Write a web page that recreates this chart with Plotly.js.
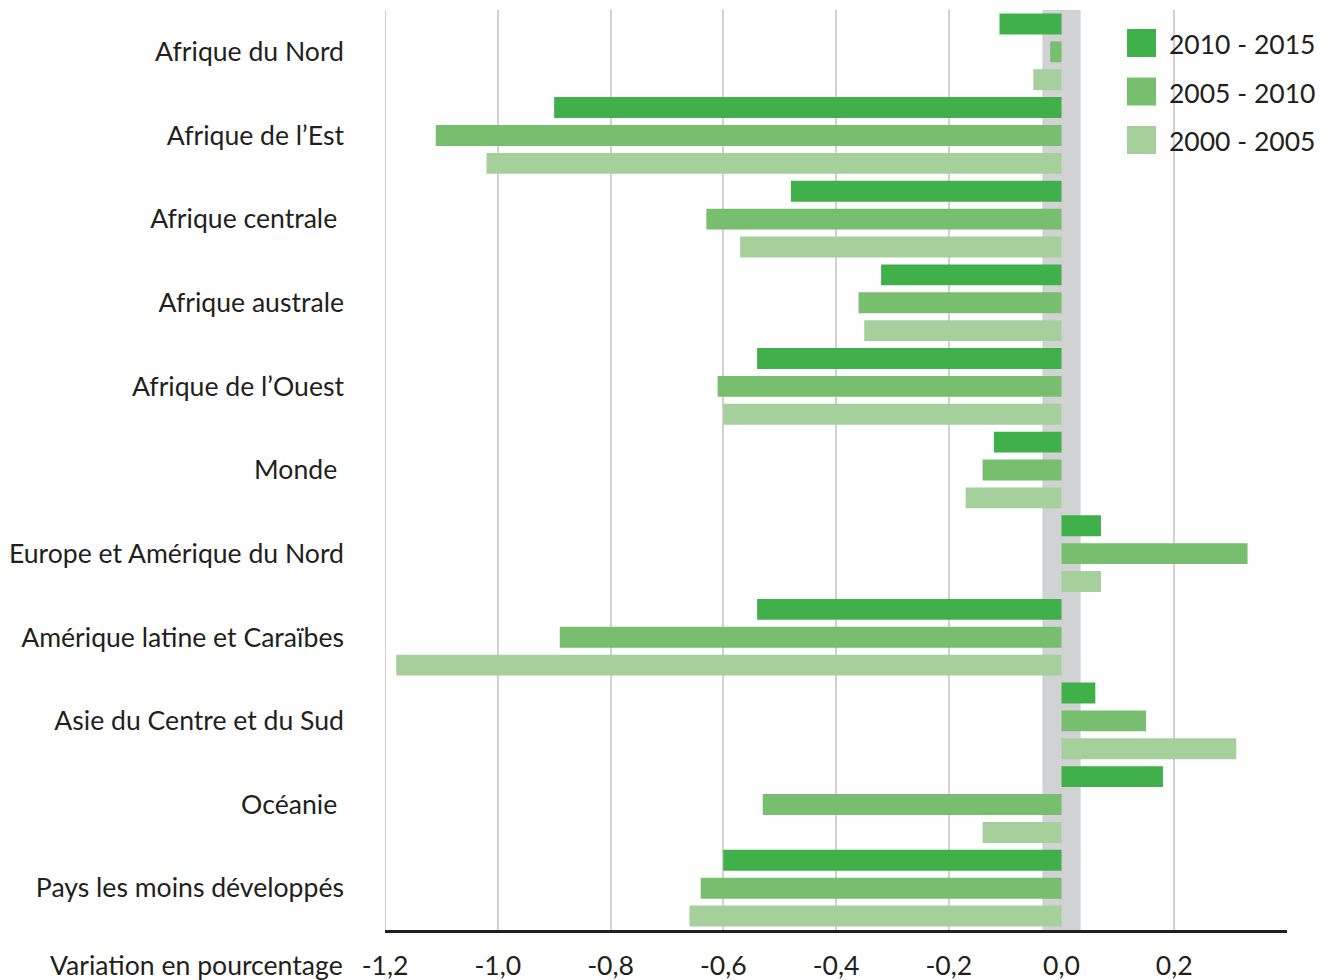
<!DOCTYPE html>
<html>
<head>
<meta charset="utf-8">
<script src="https://cdn.plot.ly/plotly-3.0.1.min.js"></script>
<style>html,body{margin:0;padding:0;background:#fff;}#chart{width:1331px;height:980px;}</style>
</head>
<body>
<div id="chart"></div>
<script>
var categories = [
  "Afrique du Nord",
  "Afrique de l’Est",
  "Afrique centrale\u00a0",
  "Afrique australe",
  "Afrique de l’Ouest",
  "Monde\u00a0",
  "Europe et Amérique du Nord",
  "Amérique latine et Caraïbes",
  "Asie du Centre et du Sud",
  "Océanie\u00a0",
  "Pays les moins développés"
];
var seriesNames = ["2010 - 2015", "2005 - 2010", "2000 - 2005"];
var v2010_2015 = [-0.11, -0.90, -0.48, -0.32, -0.54, -0.12, 0.07, -0.54, 0.06, 0.18, -0.60];
var v2005_2010 = [-0.02, -1.11, -0.63, -0.36, -0.61, -0.14, 0.33, -0.89, 0.15, -0.53, -0.64];
var v2000_2005 = [-0.05, -1.02, -0.57, -0.35, -0.60, -0.17, 0.07, -1.18, 0.31, -0.14, -0.66];
var xTickVals = [-1.2, -1.0, -0.8, -0.6, -0.4, -0.2, 0.0, 0.2];
var xTickText = ["-1,2", "-1,0", "-0,8", "-0,6", "-0,4", "-0,2", "0,0", "0,2"];
var xAxisLabel = "Variation en pourcentage";

var colors = ["#40b04b", "#77be6f", "#a5d09b"];
var values = [v2010_2015, v2005_2010, v2000_2005];
var textColor = "#231f20";
var font = "Lato, 'Open Sans', sans-serif";
var fs = 26.6;

var traces = values.map(function (vals, i) {
  return {
    type: "bar",
    orientation: "h",
    name: seriesNames[i],
    x: vals,
    y: categories,
    marker: { color: colors[i], line: { width: 0 } },
    showlegend: false,
    hoverinfo: "x+y+name"
  };
});

var shapes = [{
  type: "rect", xref: "x", yref: "paper",
  x0: -0.034, x1: 0.034, y0: 0, y1: 1,
  fillcolor: "#d1d2d4", line: { width: 0 }, layer: "below"
}, {
  type: "line", xref: "x", yref: "paper",
  x0: xTickVals[0], x1: xTickVals[0], y0: 0, y1: 1,
  line: { color: "#d1d1d1", width: 2 }, layer: "below"
}];
var annotations = [{
  text: xAxisLabel, xref: "paper", yref: "paper",
  x: -0.044, y: -0.0375, xanchor: "right", yanchor: "middle",
  showarrow: false, font: { family: font, size: fs, color: textColor }
}];

// custom legend
var legX = 1127, legY0 = 29, legStep = 48.5, sw = 29, plotL = 385, plotW = 902, plotT = 10, plotH = 920;
function px2paperX(p) { return (p - plotL) / plotW; }
function px2paperY(p) { return 1 - (p - plotT) / plotH; }
seriesNames.forEach(function (nm, i) {
  var top = legY0 + i * legStep;
  shapes.push({
    type: "rect", xref: "paper", yref: "paper",
    x0: px2paperX(legX), x1: px2paperX(legX + sw),
    y0: px2paperY(top + 28), y1: px2paperY(top),
    fillcolor: colors[i], line: { width: 0 }, layer: "above"
  });
  annotations.push({
    text: nm, xref: "paper", yref: "paper",
    x: px2paperX(1167), y: px2paperY(top + 15),
    xanchor: "left", yanchor: "middle", showarrow: false,
    font: { family: font, size: 26.5, color: textColor }
  });
});

var layout = {
  width: 1331, height: 980,
  margin: { l: 385, r: 44, t: 10, b: 50, pad: 0 },
  paper_bgcolor: "#ffffff", plot_bgcolor: "#ffffff",
  barmode: "group", bargap: 0, bargroupgap: 0.25,
  showlegend: false,
  font: { family: font, size: fs, color: textColor },
  xaxis: {
    range: [-1.2, 0.4], tickvals: xTickVals, ticktext: xTickText,
    showgrid: true, gridcolor: "#d1d1d1", gridwidth: 2,
    zeroline: false, showline: true, linecolor: textColor, linewidth: 3,
    ticks: "", ticklabelstandoff: 10,
    tickfont: { family: font, size: fs, color: textColor }
  },
  yaxis: {
    type: "category", range: [categories.length - 0.5, -0.5],
    showgrid: false, zeroline: false, showline: false, ticks: "",
    ticklabelstandoff: 40,
    tickfont: { family: font, size: fs, color: textColor }
  },
  shapes: shapes,
  annotations: annotations
};

Plotly.newPlot("chart", traces, layout, { displayModeBar: false, staticPlot: true });
</script>
</body>
</html>
